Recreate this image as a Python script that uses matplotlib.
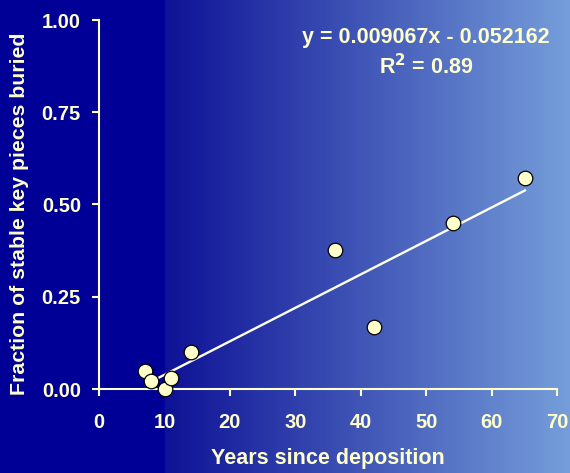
import numpy as np
import matplotlib
matplotlib.use("Agg")
import matplotlib.pyplot as plt

# data
years = [7.0, 8.0, 10.1, 11.0, 14.1, 36.1, 42.0, 54.1, 65.1]
fraction = [0.049, 0.022, 0.0, 0.030, 0.100, 0.378, 0.168, 0.450, 0.572]
slope = 0.009067
intercept = -0.052162
r2 = 0.89
fit_range = [9.0, 65.1]
xticks = [0, 10, 20, 30, 40, 50, 60, 70]
yticks = [0.0, 0.25, 0.5, 0.75, 1.0]

txt = "#ffffcc"
plt.rcParams['font.family'] = ['Liberation Sans', 'DejaVu Sans']
plt.rcParams['font.weight'] = 'bold'

fig = plt.figure(figsize=(5.7, 4.73), dpi=100)

# background gradient
bg = fig.add_axes([0, 0, 1, 1], zorder=-1)
bg.axis("off")
W = 570
cols = np.zeros((1, W, 3))
x = np.arange(W)
t = np.clip((x - 165) / (W - 165), 0, 1)
start = np.array([14, 18, 150]) / 255
end = np.array([118, 158, 218]) / 255
dark = np.array([0, 0, 150]) / 255
for i in range(W):
    cols[0, i] = dark if x[i] < 165 else start + (end - start) * t[i]
bg.imshow(cols, aspect="auto", extent=[0, 1, 0, 1])
bg.set_xlim(0, 1)
bg.set_ylim(0, 1)

ax = fig.add_axes([99 / 570, 1 - 389 / 473, 458 / 570, 369 / 473])
ax.patch.set_alpha(0)

fx = np.array(fit_range)
ax.plot(fx, slope * fx + intercept, color="#ffffee", lw=1.7, zorder=2)
ax.scatter(years, fraction, s=110, facecolor="#ffffcc", edgecolor="black",
           linewidth=0.9, zorder=3, clip_on=False)

ax.set_xlim(0, 70)
ax.set_ylim(0, 1)
ax.set_xticks(xticks)
ax.set_yticks(yticks)
ax.set_yticklabels([f"{v:.2f}" for v in yticks])
for s in ["top", "right"]:
    ax.spines[s].set_visible(False)
for s in ["left", "bottom"]:
    ax.spines[s].set_color(txt)
    ax.spines[s].set_linewidth(1.5)
ax.tick_params(colors=txt, labelsize=14.5, width=1.5, length=5, direction="out")
ax.tick_params(axis="x", pad=12)
ax.tick_params(axis="y", pad=8)
for lab in ax.get_xticklabels() + ax.get_yticklabels():
    lab.set_fontweight("bold")

ax.set_xlabel("Years since deposition", color=txt, fontsize=15.5, fontweight="bold", labelpad=12)
ax.set_ylabel("Fraction of stable key pieces buried", color=txt, fontsize=15.3,
              fontweight="bold", va="center")
ax.yaxis.set_label_coords(-0.1725, 0.474)

fig.text(426 / 570, 1 - 37 / 473, f"y = {slope:.6f}x - {abs(intercept):.6f}",
         color=txt, fontsize=15.5, fontweight="bold", ha="center", va="center")
fig.text(426 / 570, 1 - 67 / 473, f"R$^\\mathbf{{2}}$ = {r2:.2f}",
         color=txt, fontsize=15.5, fontweight="bold", ha="center", va="center")

fig.savefig("out.png", dpi=100)
